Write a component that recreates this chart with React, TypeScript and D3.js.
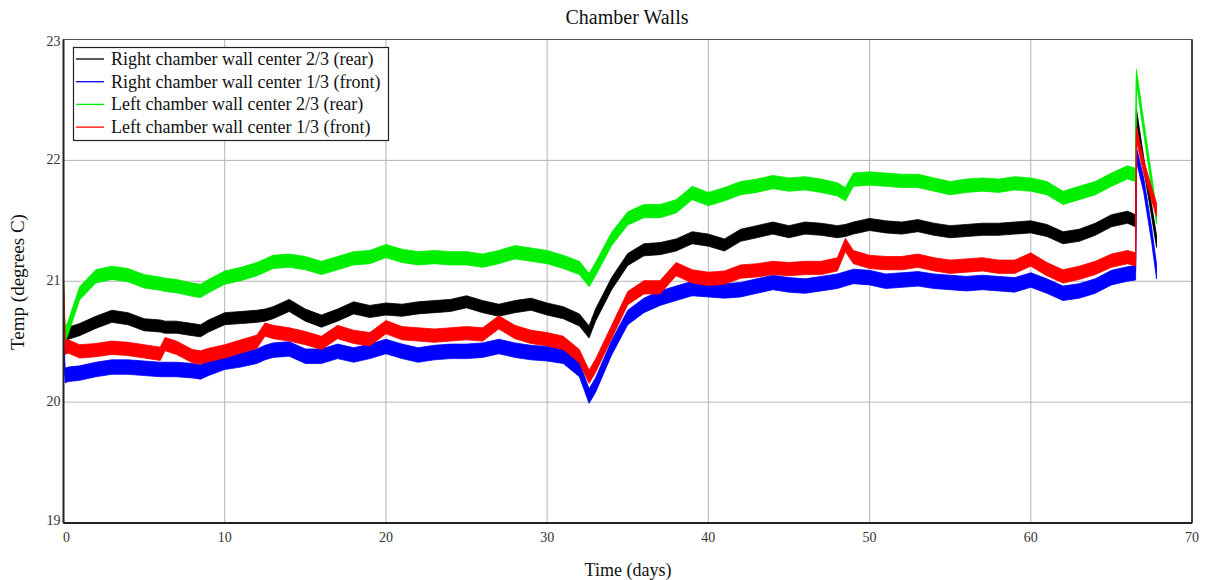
import React from "react";
import * as d3 from "d3";

const days = [0, 0.1, 0.3, 1, 2, 3, 4, 5, 6, 6.3, 7, 8, 8.5, 9, 10, 11, 12, 12.5, 13, 14, 15, 16, 17, 18, 19, 20, 21, 22, 23, 24, 25, 26, 27, 28, 29, 30, 31, 32, 32.6, 33, 34, 35, 36, 37, 38, 39, 40, 41, 42, 43, 44, 45, 46, 47, 48, 48.5, 49, 50, 51, 52, 53, 54, 55, 56, 57, 58, 59, 60, 61, 62, 63, 64, 65, 66, 66.5, 66.55, 67, 67.5, 67.8];

const rightRear = [20.80, 20.55, 20.57, 20.60, 20.66, 20.71, 20.69, 20.64, 20.63, 20.62, 20.62, 20.60, 20.59, 20.63, 20.69, 20.70, 20.71, 20.72, 20.74, 20.80, 20.72, 20.67, 20.72, 20.78, 20.75, 20.77, 20.76, 20.78, 20.79, 20.80, 20.83, 20.79, 20.76, 20.79, 20.81, 20.77, 20.74, 20.68, 20.58, 20.72, 20.98, 21.18, 21.26, 21.27, 21.30, 21.36, 21.34, 21.30, 21.38, 21.41, 21.44, 21.41, 21.44, 21.43, 21.41, 21.42, 21.44, 21.47, 21.45, 21.44, 21.46, 21.43, 21.41, 21.42, 21.43, 21.43, 21.44, 21.45, 21.42, 21.36, 21.38, 21.43, 21.50, 21.53, 21.50, 22.38, 21.98, 21.58, 21.33];

const rightFront = [20.50, 20.22, 20.23, 20.24, 20.27, 20.29, 20.29, 20.28, 20.27, 20.27, 20.27, 20.26, 20.25, 20.28, 20.33, 20.35, 20.38, 20.41, 20.43, 20.44, 20.38, 20.38, 20.42, 20.39, 20.42, 20.46, 20.42, 20.39, 20.41, 20.42, 20.42, 20.43, 20.46, 20.43, 20.41, 20.40, 20.38, 20.27, 20.05, 20.14, 20.45, 20.70, 20.80, 20.86, 20.90, 20.94, 20.93, 20.92, 20.93, 20.96, 20.99, 20.97, 20.96, 20.98, 21.00, 21.02, 21.04, 21.03, 21.00, 21.01, 21.02, 21.00, 20.99, 20.98, 20.99, 20.98, 20.97, 21.01, 20.96, 20.90, 20.92, 20.96, 21.03, 21.06, 21.07, 22.05, 21.80, 21.38, 21.08];

const leftRear = [20.98, 20.55, 20.62, 20.90, 21.04, 21.07, 21.05, 21.00, 20.98, 20.97, 20.96, 20.93, 20.92, 20.96, 21.03, 21.06, 21.10, 21.13, 21.16, 21.17, 21.15, 21.11, 21.15, 21.19, 21.20, 21.25, 21.21, 21.19, 21.20, 21.19, 21.19, 21.17, 21.20, 21.24, 21.22, 21.20, 21.16, 21.11, 21.01, 21.10, 21.35, 21.52, 21.58, 21.58, 21.62, 21.73, 21.68, 21.72, 21.77, 21.79, 21.82, 21.80, 21.81, 21.79, 21.76, 21.72, 21.84, 21.85, 21.84, 21.83, 21.83, 21.80, 21.77, 21.79, 21.80, 21.79, 21.81, 21.80, 21.77, 21.69, 21.73, 21.77, 21.84, 21.90, 21.88, 22.70, 22.28, 21.82, 21.53];

const leftFront = [20.98, 20.45, 20.46, 20.42, 20.43, 20.45, 20.44, 20.42, 20.40, 20.48, 20.45, 20.38, 20.37, 20.39, 20.42, 20.46, 20.50, 20.60, 20.58, 20.56, 20.53, 20.49, 20.58, 20.54, 20.52, 20.62, 20.57, 20.56, 20.55, 20.56, 20.57, 20.56, 20.66, 20.58, 20.54, 20.52, 20.49, 20.38, 20.21, 20.30, 20.58, 20.86, 20.95, 20.95, 21.10, 21.04, 21.02, 21.03, 21.08, 21.09, 21.11, 21.10, 21.11, 21.11, 21.14, 21.30, 21.20, 21.16, 21.15, 21.15, 21.17, 21.14, 21.12, 21.13, 21.14, 21.12, 21.12, 21.18, 21.10, 21.04, 21.07, 21.11, 21.17, 21.20, 21.18, 22.22, 21.95, 21.72, 21.59];

// noise amplitude (half band width, deg C)
const noise = [0.05, 0.06, 0.055, 0.055];

const seriesNames = [
  "Right chamber wall center 2/3 (rear)",
  "Right chamber wall center 1/3 (front)",
  "Left chamber wall center 2/3 (rear)",
  "Left chamber wall center 1/3 (front)",
];
const seriesValues = [rightRear, rightFront, leftRear, leftFront];
const colors = ["#000000", "#0000ff", "#00ee00", "#ff0000"];

const xTicks = [0, 10, 20, 30, 40, 50, 60, 70];
const yTicks = [19, 20, 21, 22, 23];

const W = 1207;
const H = 580;
const M = { left: 63.5, right: 1192, top: 39.5, bottom: 523 };
const FONT = "'Times New Roman', 'Liberation Serif', serif";

export default function App() {
  const x = d3.scaleLinear().domain([0, 70]).range([M.left, M.right]);
  const y = d3.scaleLinear().domain([19, 23]).range([M.bottom, M.top]);

  const bands = seriesValues.map((vals, si) => {
    const area = d3
      .area<number>()
      .x((_, i) => x(days[i]))
      .y0((v) => y(v - noise[si]))
      .y1((v) => y(v + noise[si]));
    const line = d3
      .line<number>()
      .x((_, i) => x(days[i]))
      .y((v) => y(v));
    return { area: area(vals) || "", line: line(vals) || "" };
  });

  const drawOrder = [0, 1, 2, 3];

  return (
    <svg
      width={W}
      height={H}
      style={{ position: "absolute", left: 0, top: 0, background: "#fff" }}
      fontFamily={FONT}
    >
      <rect x={0} y={0} width={W} height={H} fill="#fff" />
      {/* grid */}
      {xTicks.slice(1, -1).map((t) => (
        <line key={"gx" + t} x1={x(t)} x2={x(t)} y1={M.top} y2={M.bottom} stroke="#b4b4b4" strokeWidth={1} />
      ))}
      {yTicks.slice(1, -1).map((t) => (
        <line key={"gy" + t} x1={M.left} x2={M.right} y1={y(t)} y2={y(t)} stroke="#b4b4b4" strokeWidth={1} />
      ))}

      {/* data */}
      {drawOrder.map((si) => (
        <g key={"s" + si}>
          <path d={bands[si].area} fill={colors[si]} stroke={colors[si]} strokeWidth={0.8} strokeLinejoin="round" />
          <path d={bands[si].line} fill="none" stroke={colors[si]} strokeWidth={1} />
        </g>
      ))}

      {/* frame */}
      <rect x={M.left} y={M.top} width={M.right - M.left} height={M.bottom - M.top} fill="none" stroke="#555" strokeWidth={1} />
      <line x1={M.left} x2={M.left} y1={M.top} y2={M.bottom} stroke="#222" strokeWidth={2} />
      <line x1={M.left} x2={M.right} y1={M.bottom} y2={M.bottom} stroke="#222" strokeWidth={2} />
      <line x1={M.right} x2={M.right} y1={M.top} y2={M.bottom} stroke="#222" strokeWidth={1.5} />

      {/* tick labels */}
      {xTicks.map((t) => (
        <text key={"tx" + t} x={x(t) + (t === 0 ? 3 : 0)} y={M.bottom + 19} textAnchor="middle" fontSize={14} fill="#333">
          {t}
        </text>
      ))}
      {yTicks.map((t) => (
        <text key={"ty" + t} x={M.left - 3} y={y(t) + (t === 23 ? 6 : t === 19 ? 2 : 4)} textAnchor="end" fontSize={14} fill="#333">
          {t}
        </text>
      ))}

      {/* titles */}
      <text x={627} y={24} textAnchor="middle" fontSize={20} fill="#111">
        Chamber Walls
      </text>
      <text x={628} y={576} textAnchor="middle" fontSize={18} fill="#111">
        Time (days)
      </text>
      <text transform={`translate(24, 282) rotate(-90)`} textAnchor="middle" fontSize={19} fill="#111">
        Temp (degrees C)
      </text>

      {/* legend */}
      <g>
        <rect x={73.5} y={47.5} width={315} height={93} fill="#fff" stroke="#222" strokeWidth={1.2} />
        {seriesNames.map((name, i) => (
          <g key={"lg" + i}>
            <line x1={76} x2={104} y1={59 + i * 22.7} y2={59 + i * 22.7} stroke={colors[i]} strokeWidth={1.3} />
            <text x={111} y={65 + i * 22.7} fontSize={18} fill="#111">
              {name}
            </text>
          </g>
        ))}
      </g>
    </svg>
  );
}
